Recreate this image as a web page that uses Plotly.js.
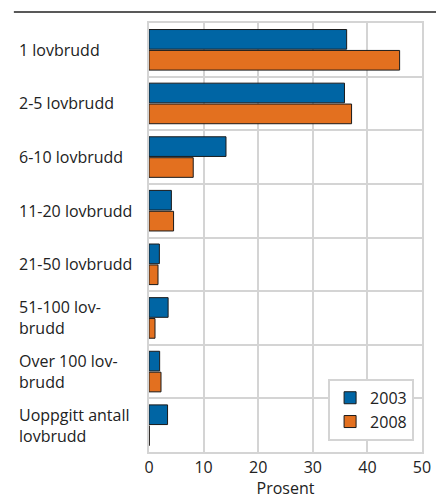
<!DOCTYPE html>
<html><head><meta charset="utf-8">
<script src="https://cdn.plot.ly/plotly-3.0.1.min.js"></script>
<style>html,body{margin:0;padding:0;background:#fff}#c{width:436px;height:499px}</style>
</head><body><div id="c"></div>
<script>
var categories = ["1 lovbrudd","2-5 lovbrudd","6-10 lovbrudd","11-20 lovbrudd","21-50 lovbrudd","51-100 lov-<br>brudd","Over 100 lov-<br>brudd","Uoppgitt antall<br>lovbrudd"];
var values2003 = [36.2, 35.8, 14.1, 4.1, 1.9, 3.5, 1.95, 3.4];
var values2008 = [45.9, 37.1, 8.1, 4.5, 1.65, 1.1, 2.2, 0.05];
var seriesNames = ["2003","2008"];
var xTicks = [0,10,20,30,40,50];

var font = "'Open Sans', 'Noto Sans', sans-serif";
var traces = [
  {type:'bar', orientation:'h', name:seriesNames[0], y:categories, x:values2003,
   marker:{color:'#0065a4', line:{color:'#1a1a1a', width:1}}},
  {type:'bar', orientation:'h', name:seriesNames[1], y:categories, x:values2008,
   marker:{color:'#e3701f', line:{color:'#1a1a1a', width:1}}}
];
var annotations = categories.map(function(c){
  return {xref:'paper', yref:'y', x:-0.484, y:c, xanchor:'left', yanchor:'middle', align:'left',
    text:c, showarrow:false, font:{family:font, size:16, color:'#222'}};
});
var layout = {
  width:436, height:499,
  margin:{l:149, r:14, t:23, b:47},
  paper_bgcolor:'#fff', plot_bgcolor:'#fff',
  barmode:'group', bargap:0.22, bargroupgap:0.06,
  showlegend:true,
  legend:{x:0.656, y:0.026, xanchor:'left', yanchor:'bottom', bgcolor:'#fff',
    bordercolor:'#d4d4d4', borderwidth:2, font:{family:font, size:16, color:'#222'},
    tracegroupgap:0, itemwidth:30},
  xaxis:{range:[0,50], tickvals:xTicks, ticktext:xTicks.map(String), showgrid:true,
    gridcolor:'#d4d4d4', gridwidth:2, zeroline:false, showline:true, linecolor:'#d4d4d4',
    linewidth:2, mirror:true, ticks:'', fixedrange:true,
    tickfont:{family:font, size:16, color:'#222'},
    title:{text:'Prosent', font:{family:font, size:16, color:'#222'}, standoff:4}},
  yaxis:{type:'category', autorange:'reversed', showticklabels:false, tickson:'boundaries',
    showgrid:true, gridcolor:'#d4d4d4', gridwidth:2, showline:true, linecolor:'#d4d4d4',
    linewidth:2, mirror:true, ticks:''},
  annotations:annotations,
  shapes:[{type:'line', xref:'paper', yref:'paper', x0:-0.495, x1:1.06, y0:1.0256, y1:1.0256,
    line:{color:'#222', width:1.5}}]
};
Plotly.newPlot('c', traces, layout, {staticPlot:true, displayModeBar:false});
</script></body></html>
